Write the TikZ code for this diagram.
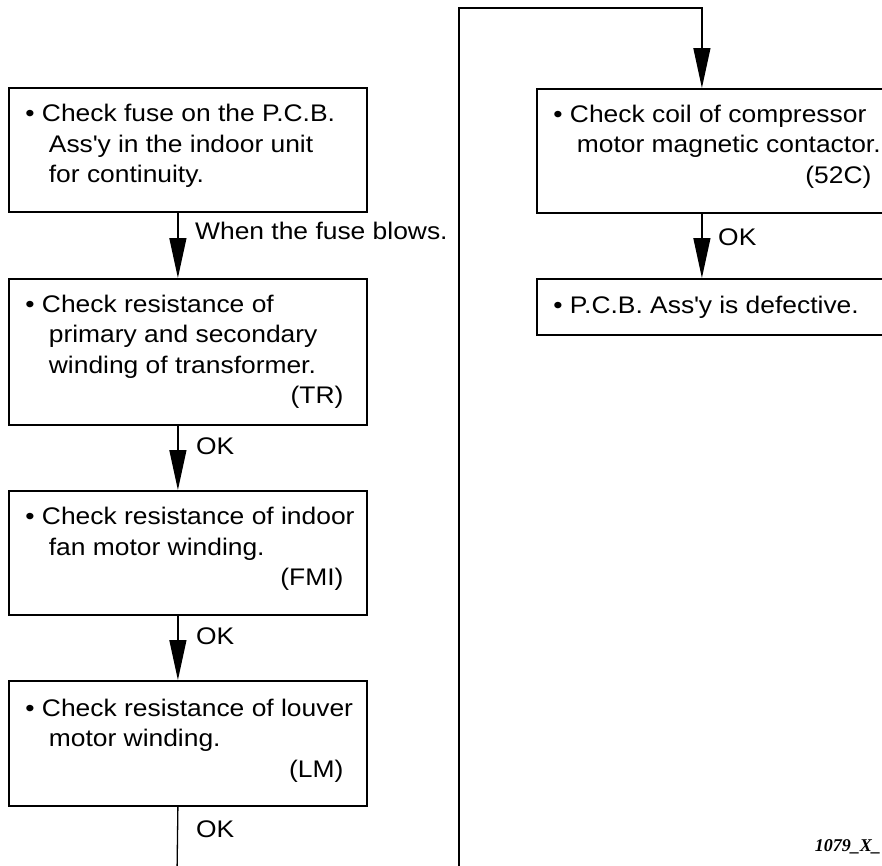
\documentclass[tikz,border=0pt]{standalone}
\usepackage{fontspec}
\setmainfont{Liberation Sans}[FakeStretch=1.1]
\newfontfamily\codefont{Liberation Serif}
\usetikzlibrary{arrows.meta}

% text inside a check box: bullet line, indented continuation lines,
% and the part code set flush right on the last line; the optional
% argument adds space below the text to lift it inside the box
\newcommand\contline{\hspace*{23.5pt}}
\newcommand\steptext[2][0pt]{\hspace*{16.5pt}\parbox{330pt}{#2\par\vspace*{#1}}\hspace*{11.5pt}}
\newcommand\partcode[1]{\makebox[\linewidth][r]{#1\hspace*{12pt}}}
\newcommand\apos{\textquotesingle}

\begin{document}
\begin{tikzpicture}[x=1pt,y=-1pt,
  stepbox/.style={draw, line width=1.8pt, rectangle, inner sep=0pt,
    minimum width=358pt, anchor=north west,
    font=\fontsize{24}{30.5}\selectfont},
  flow/.style={line width=1.3pt},
  flowarrow/.style={flow, -{Triangle[length=40pt,width=17pt]}},
  note/.style={anchor=west, inner sep=0pt, font=\fontsize{24}{30.5}\selectfont}]
\clip (0,0) rectangle (882,865);

% left column of checks
\node[stepbox, minimum height=124pt] (fuse) at (8,87) {\steptext[8pt]{%
  \textbullet\ Check fuse on the P.C.B.\\
  \contline Ass\apos y in the indoor unit\\
  \contline for continuity.}};
\node[stepbox, minimum height=146pt] (trans) at (8,278) {\steptext{%
  \textbullet\ Check resistance of\\
  \contline primary and secondary\\
  \contline winding of transformer.\\
  \partcode{(TR)}}};
\node[stepbox, minimum height=124pt] (fan) at (8,490) {\steptext[8pt]{%
  \textbullet\ Check resistance of indoor\\
  \contline fan motor winding.\\
  \partcode{(FMI)}}};
\node[stepbox, minimum height=125pt] (louver) at (8,680) {\steptext[6pt]{%
  \textbullet\ Check resistance of louver\\
  \contline motor winding.\\
  \partcode{(LM)}}};

% right column
\node[stepbox, minimum height=124pt] (coil) at (536,88) {\steptext[9pt]{%
  \textbullet\ Check coil of compressor\\
  \contline motor magnetic contactor.\\
  \partcode{(52C)}}};
\node[stepbox, minimum height=56pt] (pcb) at (536,278) {\steptext{%
  \textbullet\ P.C.B. Ass\apos y is defective.}};

% free ends of the connectors running off the sheet
\coordinate (exit) at (177,875);
\coordinate (entry) at (459,875);

% connectors
\draw[flowarrow] ([xshift=-10pt]fuse.south) -- ([xshift=-10pt]trans.north);
\draw[flowarrow] ([xshift=-10pt]trans.south) -- ([xshift=-10pt]fan.north);
\draw[flowarrow] ([xshift=-10pt]fan.south) -- ([xshift=-10pt]louver.north);
\draw[flow] ([xshift=-10pt]louver.south) -- (exit);
\draw[flowarrow] (entry) -- (entry |- 0,8) -| ([xshift=-14pt]coil.north);
\draw[flowarrow] ([xshift=-14pt]coil.south) -- ([xshift=-14pt]pcb.north);

% connector labels
\node[note] (blows) at (195,231) {When the fuse blows.};
\node[note] (ok1) at (196,446) {OK};
\node[note] (ok2) at (196,636) {OK};
\node[note] (ok3) at (196,829) {OK};
\node[note] (ok4) at (718,237) {OK};

% drawing number
\node[anchor=east, inner sep=0pt,
  font=\fontsize{18}{18}\codefont\bfseries\itshape] (dwg) at (881,847) {1079\_X\_};
\end{tikzpicture}
\end{document}
